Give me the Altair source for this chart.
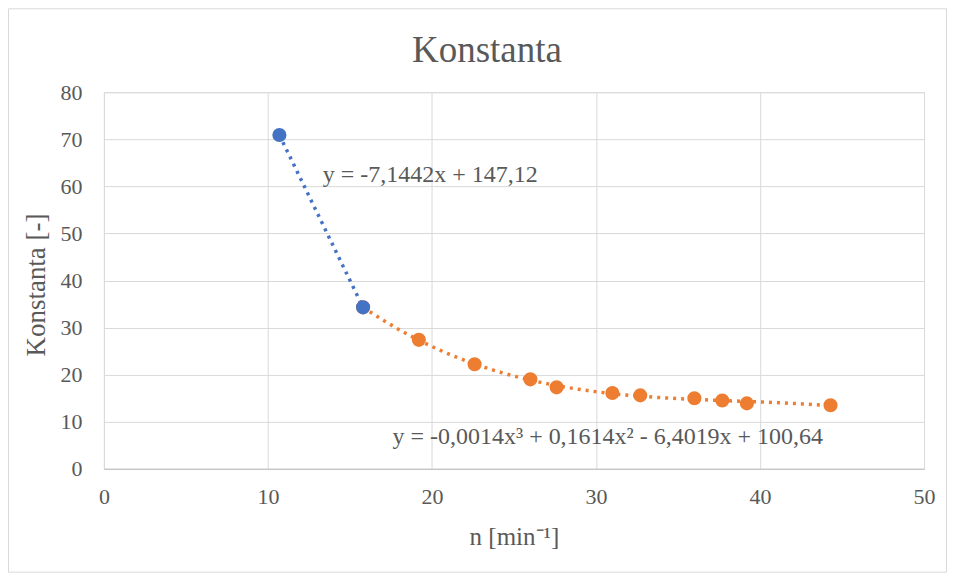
import altair as alt
import pandas as pd

# Series 1 (blue)
n_blue = [10.7, 15.8]
k_blue = [70.9, 34.3]
# Series 2 (orange)
n_orange = [15.8, 19.2, 22.6, 26.0, 27.6, 31.0, 32.7, 36.0, 37.7, 39.2, 44.3]
k_orange = [34.3, 27.4, 22.2, 19.0, 17.3, 16.1, 15.6, 15.0, 14.5, 13.9, 13.5]

eq_text = ["y = -7,1442x + 147,12", "y = -0,0014x³ + 0,1614x² - 6,4019x + 100,64"]
eq_x = [13.35, 17.6]
eq_y = [62.4, 6.8]

x_ticks = [0, 10, 20, 30, 40, 50]
y_ticks = [0, 10, 20, 30, 40, 50, 60, 70, 80]

BLUE = "#4472C4"
ORANGE = "#ED7D31"
TXT = "#595959"
FONT = "Liberation Serif"

blue_df = pd.DataFrame({"n": n_blue, "k": k_blue})
orange_df = pd.DataFrame({"n": n_orange, "k": k_orange})
eq_df = pd.DataFrame({"t": eq_text, "n": eq_x, "k": eq_y})

W, H = 821, 377

xs = alt.Scale(domain=[0, 50], nice=False)
ys = alt.Scale(domain=[0, 80], nice=False)

x_axis = alt.Axis(values=x_ticks, title="n [min⁻¹]", grid=True, gridColor="#d9d9d9",
                  domain=True, domainColor="#bfbfbf", ticks=False, tickSize=0, labelFlush=False,
                  labelPadding=18, labelFont=FONT, labelFontSize=22, labelColor=TXT,
                  titleFont=FONT, titleFontSize=25, titleColor=TXT, titleFontWeight="normal",
                  titleX=W / 2, titleY=68, titleBaseline="middle")
y_axis = alt.Axis(values=y_ticks, title="Konstanta [-]", grid=True, gridColor="#d9d9d9",
                  domain=False, ticks=False, tickSize=0, labelFlush=False,
                  labelPadding=22, labelFont=FONT, labelFontSize=22, labelColor=TXT,
                  titleFont=FONT, titleFontSize=27, titleColor=TXT, titleFontWeight="normal",
                  titleX=-67, titleY=H / 2 + 4, titleBaseline="middle")

border = alt.Chart(pd.DataFrame({"a": [0]})).mark_rect(
    fill=None, stroke="#d9d9d9", strokeWidth=1
).encode(x=alt.value(-95.5), x2=alt.value(843.5), y=alt.value(-83.5), y2=alt.value(480.5))

base_x = alt.X("n:Q", scale=xs, axis=x_axis)
base_y = alt.Y("k:Q", scale=ys, axis=y_axis)

blue_fit = alt.Chart(blue_df).transform_regression("n", "k", method="linear").mark_line(
    color=BLUE, strokeWidth=3.5, strokeDash=[3, 5]
).encode(x=base_x, y=base_y)

orange_fit = alt.Chart(orange_df).transform_regression("n", "k", method="poly", order=3).mark_line(
    color=ORANGE, strokeWidth=3.5, strokeDash=[3, 5]
).encode(x=base_x, y=base_y)

orange_pts = alt.Chart(orange_df).mark_circle(color=ORANGE, opacity=1, size=200).encode(x=base_x, y=base_y)
blue_pts = alt.Chart(blue_df).mark_circle(color=BLUE, opacity=1, size=200).encode(x=base_x, y=base_y)

eqs = alt.Chart(eq_df).mark_text(align="left", baseline="middle", font=FONT, fontSize=24, color=TXT).encode(
    x=alt.X("n:Q", scale=xs), y=alt.Y("k:Q", scale=ys), text="t:N"
)

chart = alt.layer(border, blue_fit, orange_fit, orange_pts, blue_pts, eqs).properties(
    width=W, height=H,
    title=alt.TitleParams("Konstanta", font=FONT, fontSize=37, color=TXT, fontWeight="normal",
                          anchor="middle", frame="group", dx=-27, dy=109, baseline="bottom", offset=10),
    autosize=alt.AutoSizeParams(type="none"),
    padding={"left": 96, "top": 84, "right": 23, "bottom": 104},
).configure_view(stroke=None).configure(background="white")

chart.save("out.html", embed_options={"renderer": "svg", "actions": False})
